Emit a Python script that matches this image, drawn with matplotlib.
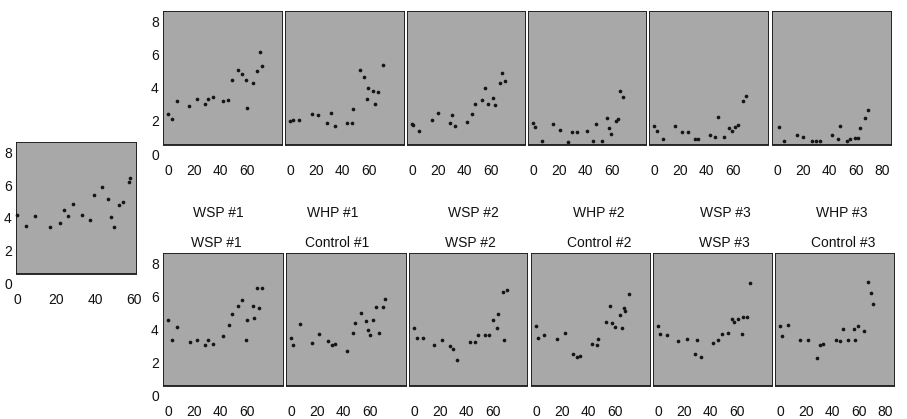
import matplotlib
matplotlib.use("Agg")
import matplotlib.pyplot as plt
from matplotlib.patches import Rectangle

plt.rcParams['font.family'] = ['Liberation Sans', 'DejaVu Sans']

# ---------------- data ----------------
top_labels = ["WSP #1", "WHP #1", "WSP #2", "WHP #2", "WSP #3", "WHP #3"]
bottom_labels = ["WSP #1", "Control #1", "WSP #2", "Control #2", "WSP #3", "Control #3"]
y_ticks = [0, 2, 4, 6, 8]
x_ticks = [0, 20, 40, 60]
x_ticks_last = [0, 20, 40, 60, 80]

left_day = [0, 4.6, 9.2, 16.9, 22, 24.1, 26.3, 28.6, 33.2, 37.4, 39.5, 43.4, 46.8, 48, 49.7, 52.5, 54.5, 57.6, 57.9]
left_val = [4.18, 3.47, 4.12, 3.43, 3.67, 4.49, 4.12, 4.86, 4.18, 3.88, 5.42, 5.89, 5.15, 4.04, 3.43, 4.8, 4.94, 6.17, 6.44]

top_wsp1_day = [0, 2.8, 6.6, 16, 21.7, 28, 30.5, 34.3, 41.9, 45.7, 48.3, 53.3, 55.8, 59, 60, 64.6, 67.2, 69.7, 71]
top_wsp1_val = [2.44, 2.13, 3.2, 2.9, 3.3, 3.0, 3.3, 3.45, 3.2, 3.25, 4.5, 5.1, 4.85, 4.5, 2.8, 4.3, 5.0, 6.15, 5.3]
top_whp1_day = [0, 2.5, 7.1, 16.4, 21.5, 27.8, 30.8, 34.1, 42.9, 46.7, 48, 53, 56, 59.3, 58.1, 63.1, 66.9, 64.4, 70.2]
top_whp1_val = [2.0, 2.03, 2.07, 2.44, 2.36, 1.89, 2.5, 1.69, 1.89, 1.89, 2.7, 5.08, 4.63, 4.02, 3.31, 3.82, 3.78, 3.0, 5.41]
top_wsp2_day = [0, 1, 5.5, 14.9, 19.9, 28.8, 30.1, 32.6, 41.4, 45.2, 47.7, 52.8, 55.3, 57.8, 61.6, 62.9, 66.7, 67.9, 70.5]
top_wsp2_val = [1.79, 1.75, 1.42, 2.03, 2.5, 1.89, 2.36, 1.68, 1.95, 2.4, 3.0, 3.25, 4.0, 3.05, 3.41, 2.97, 4.27, 4.88, 4.39]
top_whp2_day = [0, 1.5, 6.6, 15.4, 20.5, 26.8, 29.3, 33.1, 40.7, 45.7, 47.5, 52, 55.8, 57.6, 59.1, 62.6, 64.1, 65.9, 68.4]
top_whp2_val = [1.89, 1.63, 0.81, 1.83, 1.48, 0.71, 1.34, 1.34, 1.42, 0.81, 1.79, 0.81, 2.2, 1.59, 1.18, 2.0, 2.1, 3.82, 3.46]
top_wsp3_day = [0, 2, 7, 15.9, 21, 26, 31.1, 33.6, 42.4, 46.2, 48.2, 53.3, 56.8, 58.8, 61.4, 63.9, 67.7, 69.5]
top_wsp3_val = [1.69, 1.42, 0.93, 1.69, 1.34, 1.34, 0.91, 0.93, 1.14, 1.02, 2.24, 1.02, 1.59, 1.38, 1.63, 1.75, 3.21, 3.52]
top_whp3_day = [1.5, 5.5, 14.9, 19.9, 26.8, 29.3, 32.6, 41.4, 46.5, 47.7, 52.8, 55.3, 59.1, 61.6, 62.9, 66.7, 69.2]
top_whp3_val = [1.63, 0.81, 1.14, 1.02, 0.81, 0.81, 0.81, 1.14, 0.88, 1.69, 0.81, 0.88, 0.94, 0.98, 1.55, 2.2, 2.64]

bot_wsp1_day = [0, 2.8, 7.1, 16.7, 21.7, 28, 30.5, 34.3, 41.9, 46.5, 48.3, 53.3, 55.8, 59, 60, 64.1, 65.2, 67.7, 71, 69.2]
bot_wsp1_val = [4.55, 3.37, 4.14, 3.23, 3.37, 3.03, 3.37, 3.13, 3.58, 4.24, 4.91, 5.45, 5.8, 3.33, 4.55, 5.45, 4.71, 6.53, 6.53, 5.32]
bot_ctl1_day = [0, 1.8, 6.8, 15.7, 21.4, 28.3, 30.8, 33.3, 42.2, 47.2, 48.5, 52.8, 56.8, 58.6, 59.8, 62.4, 64.4, 66.9, 69.5, 71.2]
bot_ctl1_val = [3.5, 3.03, 4.3, 3.17, 3.7, 3.29, 3.03, 3.13, 2.68, 3.78, 4.38, 4.99, 4.5, 3.94, 3.64, 4.55, 5.39, 3.78, 5.39, 5.86]
bot_wsp2_day = [0, 2, 7, 15.2, 21, 27.3, 29.3, 32.3, 42.4, 46.2, 48.7, 53.8, 57, 59.6, 63.1, 63.9, 68.2, 67.7, 70.3]
bot_wsp2_val = [4.1, 3.5, 3.5, 3.03, 3.33, 2.97, 2.83, 2.12, 3.23, 3.23, 3.64, 3.64, 3.64, 4.55, 4.1, 4.95, 3.33, 6.26, 6.4]
bot_ctl2_day = [0, 1.7, 6.3, 15.7, 22, 28.3, 30.8, 33.3, 42.2, 46, 47.2, 52.8, 56, 57.8, 59.8, 63.6, 64.9, 66.9, 67.4, 70.5]
bot_ctl2_val = [4.18, 3.5, 3.64, 3.43, 3.78, 2.52, 2.32, 2.36, 3.13, 3.03, 3.43, 4.44, 5.45, 4.38, 4.14, 4.85, 4.1, 5.32, 5.11, 6.16]
bot_wsp3_day = [0, 1.5, 6.6, 15.4, 21.7, 29.3, 28, 32.6, 41.9, 45.7, 48.2, 52.8, 55.8, 57.8, 60.9, 63.9, 64.6, 67.2, 69.7]
bot_wsp3_val = [4.18, 3.7, 3.64, 3.29, 3.43, 3.33, 2.52, 2.32, 3.17, 3.33, 3.74, 3.78, 4.65, 4.44, 4.65, 3.7, 4.75, 4.75, 6.81]
bot_ctl3_day = [0, 1.3, 6.3, 15.2, 21, 27.8, 30.3, 32.8, 42.2, 45.5, 48, 51.8, 56.8, 56.3, 59.3, 63.9, 66.9, 68.9, 70.7]
bot_ctl3_val = [4.18, 3.58, 4.24, 3.33, 3.37, 2.28, 3.03, 3.13, 3.33, 3.29, 4.04, 3.33, 3.33, 4.04, 4.18, 3.9, 6.87, 6.2, 5.56]

top_series = [(top_wsp1_day, top_wsp1_val), (top_whp1_day, top_whp1_val),
              (top_wsp2_day, top_wsp2_val), (top_whp2_day, top_whp2_val),
              (top_wsp3_day, top_wsp3_val), (top_whp3_day, top_whp3_val)]
bot_series = [(bot_wsp1_day, bot_wsp1_val), (bot_ctl1_day, bot_ctl1_val),
              (bot_wsp2_day, bot_wsp2_val), (bot_ctl2_day, bot_ctl2_val),
              (bot_wsp3_day, bot_wsp3_val), (bot_ctl3_day, bot_ctl3_val)]

# ---------------- layout (pixels) ----------------
W, H = 907, 419
fig = plt.figure(figsize=(W / 100, H / 100), dpi=100)

GRAY = '#a8a8a8'
YTOP = 8.65
YBOX = 0.55
FS = 10

top_boxes = [(163, 283), (285, 405), (407, 526), (528, 647), (649, 769), (772, 892)]
bot_boxes = [(163, 284), (286, 407), (409, 528), (531, 651), (653, 773), (775, 895)]
top_label_px = [218, 333, 473, 599, 725, 842]
bot_title_px = [216, 337, 470, 599, 724, 843]


def make_axes(x0, x1, ytop_px, yzero_px):
    return fig.add_axes([x0 / W, 1 - yzero_px / H, (x1 - x0) / W, (yzero_px - ytop_px) / H])


def style(ax, xlim, xticks, show_y):
    ax.set_facecolor('none')
    for s in ax.spines.values():
        s.set_visible(False)
    # x in axes coords, y in data coords
    ax.add_patch(Rectangle((0, YBOX), 1, YTOP - YBOX, transform=ax.get_yaxis_transform(),
                           facecolor=GRAY, edgecolor='#1a1a1a', linewidth=1.3, zorder=0))
    ax.set_xlim(*xlim)
    ax.set_ylim(0, YTOP)
    ax.set_xticks(xticks)
    ax.set_yticks(y_ticks)
    ax.tick_params(axis='both', length=0, labelsize=FS, colors='#111111')
    ax.tick_params(axis='x', pad=7)
    ax.tick_params(axis='y', pad=3)
    if not show_y:
        ax.set_yticklabels([])


def draw_points(ax, xs, ys):
    ax.scatter(xs, ys, s=7, color='#151515', marker='o', linewidths=0, zorder=3, clip_on=False)


PXU = 1.32  # px per day unit in main panels

# left panel
axl = make_axes(16, 137, 142, 283)
style(axl, (-0.5, 61.5), x_ticks, True)
draw_points(axl, left_day, left_val)

# top row
for i, ((x0, x1), (xs, ys)) in enumerate(zip(top_boxes, top_series)):
    ax = make_axes(x0, x1, 11, 154)
    w = x1 - x0
    style(ax, (-5 / PXU, (w - 5) / PXU), x_ticks_last if i == 5 else x_ticks, i == 0)
    draw_points(ax, xs, ys)
    fx = (top_label_px[i] - x0) / w
    ax.text(fx, -(213 - 154) / (154 - 11), top_labels[i], transform=ax.transAxes,
            ha='center', va='center', fontsize=FS, color='#111111')

# bottom row
for i, ((x0, x1), (xs, ys)) in enumerate(zip(bot_boxes, bot_series)):
    ax = make_axes(x0, x1, 253, 395)
    w = x1 - x0
    style(ax, (-5 / PXU, (w - 5) / PXU), x_ticks_last if i == 5 else x_ticks, i == 0)
    draw_points(ax, xs, ys)
    fx = (bot_title_px[i] - x0) / w
    ax.text(fx, 1 + (253 - 243) / (395 - 253), bottom_labels[i], transform=ax.transAxes,
            ha='center', va='center', fontsize=FS, color='#111111')

fig.savefig('out.png', dpi=100)
